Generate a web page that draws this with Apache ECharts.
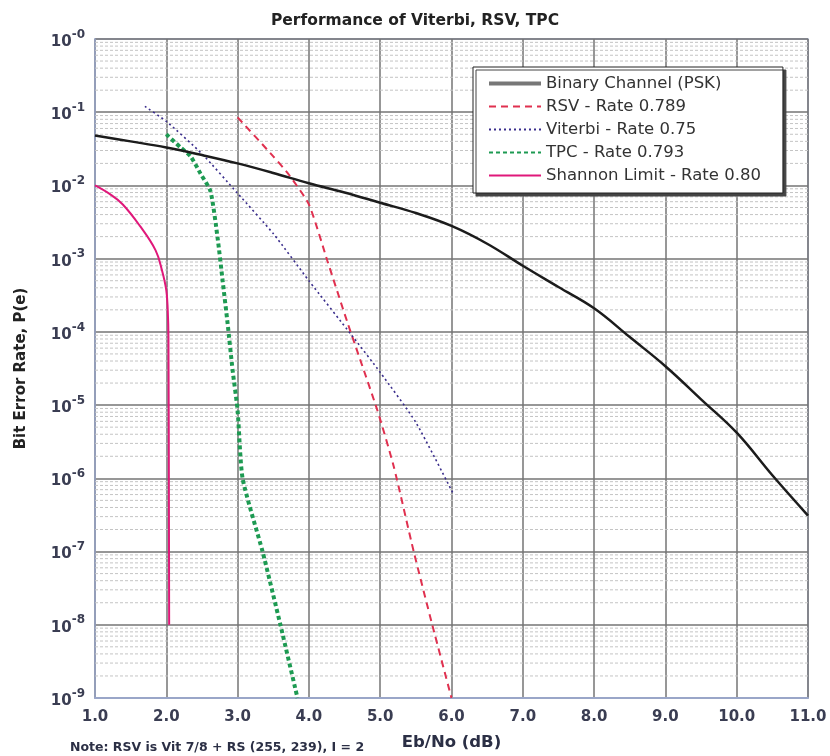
<!DOCTYPE html>
<html>
<head>
<meta charset="utf-8">
<title>Performance of Viterbi, RSV, TPC</title>
<script src="https://cdn.jsdelivr.net/npm/echarts@6/dist/echarts.min.js"></script>
<style>
    html, body { margin: 0; padding: 0; background: #fff; }
    #myChart { width: 830px; height: 756px; }
</style>
</head>
<body>
<div id="myChart"></div>
<script>
    // values: Eb/No (dB) and bit error rate
    var seriesNames = ['Binary Channel (PSK)', 'RSV - Rate 0.789', 'Viterbi - Rate 0.75', 'TPC - Rate 0.793', 'Shannon Limit - Rate 0.80'];

    var binaryX = [1.0, 1.5, 2.0, 2.5, 3.0, 3.5, 4.0, 4.5, 5.0, 5.5, 6.0, 6.5, 7.0, 7.5, 8.0, 8.5, 9.0, 9.5, 10.0, 10.5, 11.0];
    var binaryY = [0.048, 0.04, 0.033, 0.026, 0.02, 0.0148, 0.0107, 0.008, 0.0058, 0.0042, 0.0028, 0.0016, 0.0008, 0.00041, 0.00021, 0.000085, 0.000034, 0.000012, 0.0000042, 0.0000011, 0.00000031];

    var rsvX = [3.0, 3.5, 3.72, 4.0, 4.26, 4.54, 4.96, 5.19, 5.47, 5.73, 6.0];
    var rsvY = [0.085, 0.025, 0.014, 0.0055, 0.00093, 0.000135, 0.0000085, 0.00000145, 1e-7, 1e-8, 1e-9];

    var viterbiX = [1.7, 2.0, 2.5, 3.0, 3.5, 4.0, 4.6, 5.0, 5.5, 6.03];
    var viterbiY = [0.12, 0.075, 0.027, 0.0078, 0.0022, 0.0005, 0.00009, 0.000028, 0.0000058, 0.0000006];

    var tpcX = [2.0, 2.2, 2.34, 2.48, 2.62, 2.72, 2.79, 2.86, 2.93, 3.0, 3.07, 3.35, 3.6, 3.84];
    var tpcY = [0.05, 0.033, 0.025, 0.0145, 0.0083, 0.0019, 0.0005, 0.00013, 0.00003, 0.0000085, 1e-6, 1e-7, 1e-8, 1e-9];

    var shannonX = [1.0, 1.21, 1.39, 1.63, 1.85, 1.94, 2.0, 2.02, 2.03, 2.04];
    var shannonY = [0.01, 0.0076, 0.0055, 0.0028, 0.0013, 0.00069, 0.00037, 0.0002, 0.000085, 1e-8];

    var xMin = 1, xMax = 11;

    function pairs(xs, ys) {
        return xs.map(function (x, i) { return [x, ys[i]]; });
    }

    // light dashed lines at 2..9 inside every decade
    var minorLines = [];
    for (var e = -9; e < 0; e++) {
        for (var m = 2; m <= 9; m++) {
            minorLines.push([xMin, m * Math.pow(10, e)]);
        }
    }

    var myChart = echarts.init(document.getElementById('myChart'));

    var options = {
        backgroundColor: '#fff',
        animation: false,
        title: {
            text: 'Performance of Viterbi, RSV, TPC',
            left: 'center',
            top: 8,
            textStyle: { fontFamily: 'DejaVu Sans', fontWeight: 'bold', fontSize: 15.5, color: '#222' }
        },
        legend: {
            data: [
                { name: seriesNames[0], lineStyle: { color: '#777', width: 4 } },
                seriesNames[1], seriesNames[2], seriesNames[3], seriesNames[4]
            ],
            orient: 'vertical',
            left: 473,
            top: 67,
            padding: [8, 22, 9, 14],
            itemWidth: 52,
            itemHeight: 14,
            itemGap: 6,
            itemStyle: { opacity: 0 },
            backgroundColor: '#fff',
            borderColor: '#222',
            borderWidth: 1,
            shadowColor: '#444',
            shadowBlur: 0,
            shadowOffsetX: 3,
            shadowOffsetY: 3,
            textStyle: { fontFamily: 'DejaVu Sans', fontSize: 16.5, color: '#333' }
        },
        grid: {
            left: 95, right: 22, top: 39, bottom: 56,
            show: true,
            borderColor: '#9aa6c8',
            borderWidth: 1.5
        },
        xAxis: {
            type: 'value',
            min: xMin, max: xMax, interval: 1,
            name: 'Eb/No (dB)',
            nameLocation: 'middle',
            nameGap: 36,
            nameTextStyle: { fontFamily: 'DejaVu Sans', fontWeight: 'bold', fontSize: 16.5, color: '#2b2f45' },
            axisLine: { show: true, lineStyle: { color: '#9aa6c8', width: 2 } },
            axisTick: { show: false },
            axisLabel: {
                margin: 12,
                fontFamily: 'DejaVu Sans', fontWeight: 'bold', fontSize: 15, color: '#3a3d52',
                formatter: function (v) { return v.toFixed(1); }
            },
            splitLine: { show: true, lineStyle: { color: '#757575', width: 1.5 } }
        },
        yAxis: {
            type: 'log',
            logBase: 10,
            min: 1e-9, max: 1,
            splitNumber: 9,
            name: 'Bit Error Rate, P(e)',
            nameLocation: 'middle',
            nameGap: 66,
            nameTextStyle: { fontFamily: 'DejaVu Sans', fontWeight: 'bold', fontSize: 15, color: '#222' },
            axisLine: { show: true, lineStyle: { color: '#9aa6c8', width: 1.5 } },
            axisTick: { show: false },
            axisLabel: {
                margin: 10,
                formatter: function (v) {
                    var p = Math.round(Math.log(v) / Math.LN10);
                    return '{b|10}{s|-' + Math.abs(p) + '}';
                },
                rich: {
                    b: { fontFamily: 'DejaVu Sans', fontWeight: 'bold', fontSize: 15, color: '#3a3d52', lineHeight: 21, verticalAlign: 'bottom' },
                    s: { fontFamily: 'DejaVu Sans', fontWeight: 'bold', fontSize: 12, color: '#3a3d52', verticalAlign: 'top' }
                }
            },
            splitLine: { show: true, lineStyle: { color: '#757575', width: 1.5 } }
        },
        graphic: [
            {
                type: 'text',
                left: 70, top: 741,
                style: {
                    text: 'Note: RSV is Vit 7/8 + RS (255, 239), I = 2',
                    fontFamily: 'DejaVu Sans', fontWeight: 'bold', fontSize: 12.5, fill: '#2b2f45'
                }
            }
        ],
        series: [
            {
                name: 'minor grid',
                type: 'custom',
                data: minorLines,
                z: 1,
                silent: true,
                renderItem: function (params, api) {
                    var v = api.value(1);
                    var a = api.coord([xMin, v]);
                    var b = api.coord([xMax, v]);
                    return {
                        type: 'line',
                        shape: { x1: a[0], y1: a[1], x2: b[0], y2: b[1] },
                        style: { stroke: '#c4c4c4', lineWidth: 1, lineDash: [3, 2] }
                    };
                }
            },
            {
                name: seriesNames[0], type: 'line', data: pairs(binaryX, binaryY),
                symbol: 'none', smooth: 0.4, z: 5,
                lineStyle: { color: '#1c1c1c', width: 2.5 },
                itemStyle: { color: '#777' }
            },
            {
                name: seriesNames[1], type: 'line', data: pairs(rsvX, rsvY),
                symbol: 'none', smooth: 0.2, z: 4,
                lineStyle: { color: '#e0304f', width: 2, type: [7, 5] },
                itemStyle: { color: '#e0304f' }
            },
            {
                name: seriesNames[2], type: 'line', data: pairs(viterbiX, viterbiY),
                symbol: 'none', smooth: 0.2, z: 4,
                lineStyle: { color: '#3a2d8c', width: 1.6, type: [2, 3] },
                itemStyle: { color: '#3a2d8c' }
            },
            {
                name: seriesNames[3], type: 'line', data: pairs(tpcX, tpcY),
                symbol: 'none', smooth: 0.2, z: 4,
                lineStyle: { color: '#1d9a52', width: 4, type: [4, 3] },
                itemStyle: { color: '#1d9a52' }
            },
            {
                name: seriesNames[4], type: 'line', data: pairs(shannonX, shannonY),
                symbol: 'none', smooth: 0.4, z: 4,
                lineStyle: { color: '#e0187a', width: 2 },
                itemStyle: { color: '#e0187a' }
            }
        ]
    };

    myChart.setOption(options);
</script>
</body>
</html>
